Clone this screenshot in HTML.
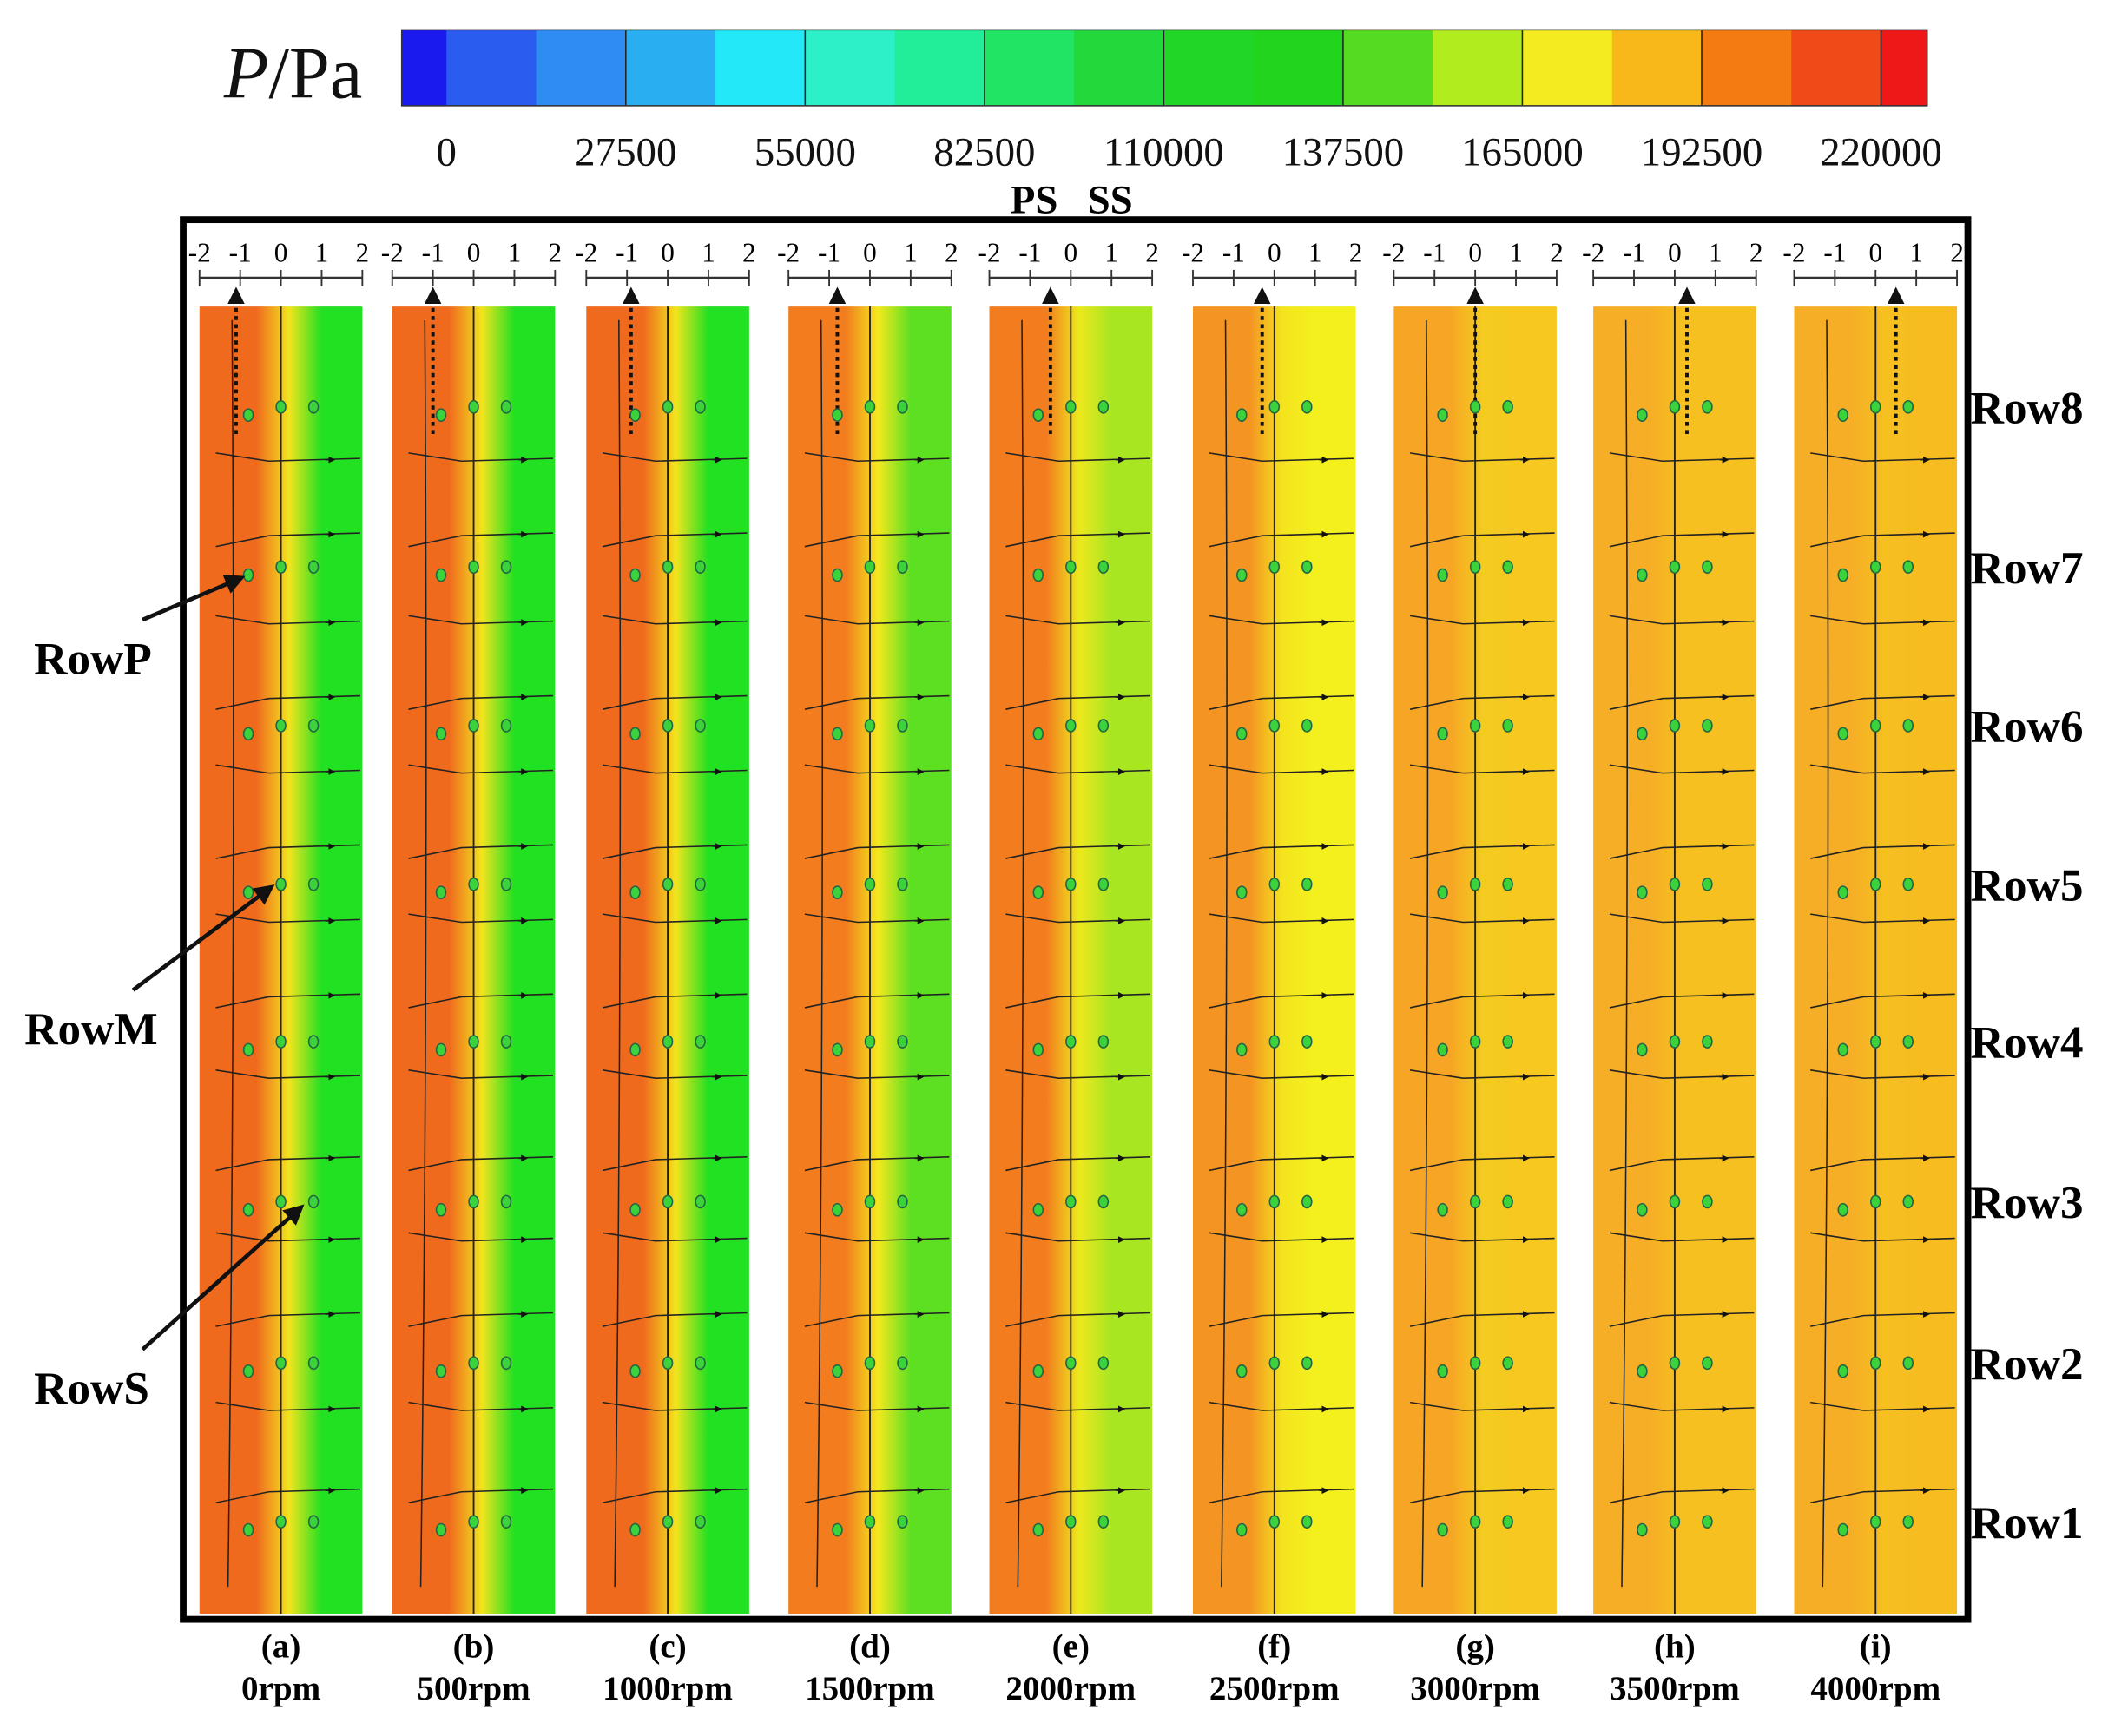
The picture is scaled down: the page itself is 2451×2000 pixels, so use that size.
<!DOCTYPE html>
<html><head><meta charset="utf-8">
<style>
html,body{margin:0;padding:0;background:#fff;}
svg{display:block;}
text{font-family:"Liberation Serif",serif;}
</style></head>
<body>
<svg id="fig" width="2451" height="2000" viewBox="0 0 1568 1280" preserveAspectRatio="none" xmlns="http://www.w3.org/2000/svg">
<defs>
<marker id="ah" viewBox="0 0 10 10" refX="8" refY="5" markerWidth="5" markerHeight="5" orient="auto"><path d="M0,0L10,5L0,10z" fill="#111"/></marker>
</defs>
<g id="colorbar"></g>
<g id="panels"></g>
<g id="labels"></g>
</svg>
<script>
const NS="http://www.w3.org/2000/svg";
// colorbar data
const cbColors=["#1a1aee","#2b5cf0","#2f8cf2","#2aaef2","#22e8f8","#2ef0c8","#22ee9a","#22e464","#22d83a","#22d628","#22d41e","#55dc22","#b0ec1e","#f4ec20","#f8b81a","#f47a12","#f04a18","#ee1818"];
const cbTicks=["0","27500","55000","82500","110000","137500","165000","192500","220000"];
const cbTickVals=[0,27500,55000,82500,110000,137500,165000,192500,220000];
// panel data
const panelLetters=["(a)","(b)","(c)","(d)","(e)","(f)","(g)","(h)","(i)"];
const panelRpm=["0rpm","500rpm","1000rpm","1500rpm","2000rpm","2500rpm","3000rpm","3500rpm","4000rpm"];
const panelLeft=["#f06a1e","#f06a1e","#f06a1e","#f27c1e","#f27c1e","#f49422","#f6a624","#f6ae26","#f6ae26"];
const panelMid=["#f2e41e","#f2e41e","#f2e41e","#f4e81e","#eee81e","#f4e41e","#f4cc20","#f6c020","#f6c020"];
const panelRight=["#22e022","#22e022","#22e022","#5ee022","#a8e622","#f4f01e","#f6c820","#f6c020","#f6bc20"];
const arrowPos=[-1.1,-1,-0.9,-0.8,-0.5,-0.3,0,0.3,0.5];
const rowNames=["Row8","Row7","Row6","Row5","Row4","Row3","Row2","Row1"];
const rowY=[300,418,535,652,768,886,1005,1122];
const dotOffsets=[-0.8,0,0.8];
const streamY=[340,395,460,515,570,625,680,735,795,855,915,970,1040,1100];
// layout (not data)
const panelX=[147,289,432,581,729,879,1027,1174,1322];

function el(tag,attrs,parent,text){const e=document.createElementNS(NS,tag);for(const k in attrs)e.setAttribute(k,attrs[k]);if(text!==undefined)e.textContent=text;parent.appendChild(e);return e;}

// colorbar
const cb=document.getElementById('colorbar');
const cbX0=296,cbX1=1420,cbY=22,cbH=56;
const cbScale=v=>329+(v/220000)*(1386-329);
const nb=cbColors.length;
const inner=(1386-329)/(nb-2);
cbColors.forEach((c,i)=>{
  const xa=i==0?cbX0:329+(i-1)*inner;
  const xb=i==nb-1?cbX1:329+i*inner;
  const r=el('rect',{x:xa,y:cbY,width:xb-xa+0.5,height:cbH,fill:c},cb);
  
  
});
cbTickVals.forEach((v,i)=>{
  if(i>0){const l=el('line',{x1:cbScale(v),x2:cbScale(v),y1:cbY,y2:cbY+cbH,stroke:'#222','stroke-width':1},cb);
  }
  const t=el('text',{x:cbScale(v),y:122,'font-size':30,'text-anchor':'middle',fill:'#111'},cb,cbTicks[i]);
  
  
});
el('rect',{x:cbX0,y:cbY,width:cbX1-cbX0,height:cbH,fill:'none',stroke:'#333','stroke-width':1},cb);
const ttl=el('text',{x:165,y:72,'font-size':54,fill:'#111'},cb);

el('tspan',{'font-style':'italic'},ttl,'P');el('tspan',{},ttl,'/Pa');

// labels
const lb=document.getElementById('labels');
const ps=el('text',{x:762,y:157,'font-size':30,'font-weight':'bold','text-anchor':'middle'},lb,'PS');

const ss=el('text',{x:818,y:157,'font-size':30,'font-weight':'bold','text-anchor':'middle'},lb,'SS');


// panels
const pg=document.getElementById('panels');
const frame=el('rect',{x:135,y:162,width:1315,height:1032,fill:'none',stroke:'#000','stroke-width':5},pg);

const pW=120,pTop=226,pBot=1190;
const defs=document.querySelector('defs');
panelLetters.forEach((L,i)=>{
  const x0=panelX[i], cx=x0+pW/2, unit=pW/4;
  const ax=v=>cx+v*unit;
  const g=el('linearGradient',{id:'g'+i,x1:0,x2:1,y1:0,y2:0},defs);
  el('stop',{offset:0,'stop-color':panelLeft[i]},g);
  el('stop',{offset:0.35,'stop-color':panelLeft[i]},g);
  el('stop',{offset:0.55,'stop-color':panelMid[i]},g);
  el('stop',{offset:0.75,'stop-color':panelRight[i]},g);
  el('stop',{offset:1,'stop-color':panelRight[i]},g);
  const grp=el('g',{},pg);
  
  
  const r=el('rect',{x:x0,y:pTop,width:pW,height:pBot-pTop,fill:'url(#g'+i+')'},grp);
  
  el('line',{x1:ax(-2),x2:ax(2),y1:205,y2:205,stroke:'#333','stroke-width':2},grp);
  [-2,-1,0,1,2].forEach(v=>{
    el('line',{x1:ax(v),x2:ax(v),y1:199,y2:211,stroke:'#333','stroke-width':1.2},grp);
    const t=el('text',{x:ax(v),y:193,'font-size':20,'text-anchor':'middle'},grp,String(v));
    
  });
  el('line',{x1:ax(0),x2:ax(0),y1:pTop,y2:pBot,stroke:'#222','stroke-width':1.2},grp);
  streamY.forEach((y,k)=>{
    const p=el('path',{d:`M${ax(-1.6)},${y+(k%2?8:-6)} L${ax(-0.3)},${y} L${ax(1.95)},${y-2}`,fill:'none',stroke:'#222','stroke-width':1},grp);
    
    el('line',{x1:ax(1.1),x2:ax(1.3),y1:y-1,y2:y-1,stroke:'#222','stroke-width':1,'marker-end':'url(#ah)'},grp);
  });
  el('path',{d:`M${ax(-1.2)},${pTop+10} Q${ax(-1.1)},700 ${ax(-1.3)},${pBot-20}`,fill:'none',stroke:'#222','stroke-width':1},grp);
  const da=el('line',{x1:ax(arrowPos[i]),x2:ax(arrowPos[i]),y1:320,y2:214,stroke:'#111','stroke-width':2.5,'stroke-dasharray':'3,3','marker-end':'url(#ah)'},grp);
  
  rowY.forEach((y,k)=>{
    dotOffsets.forEach((o,j)=>{
      const c=el('ellipse',{cx:ax(o),cy:y+(j==0?6:0),rx:3.5,ry:4.5,fill:'#3cd23c',stroke:'#264','stroke-width':1},grp);
      
    });
  });
  const t1=el('text',{x:cx,y:1222,'font-size':25,'font-weight':'bold','text-anchor':'middle'},grp,L);
  
  const t2=el('text',{x:cx,y:1253,'font-size':25,'font-weight':'bold','text-anchor':'middle'},grp,panelRpm[i]);
  
});
rowNames.forEach((n,k)=>{
  const t=el('text',{x:1452,y:rowY[k]+12,'font-size':34,'font-weight':'bold'},lb,n);
  
});
const side=[["RowP",25,497,178,422],["RowM",18,770,200,650],["RowS",25,1035,222,886]];
side.forEach(s=>{
  const t=el('text',{x:s[1],y:s[2],'font-size':34,'font-weight':'bold'},lb,s[0]);
  
  const l=el('line',{x1:s[1]+80,x2:s[3],y1:s[2]-40,y2:s[4]+4,stroke:'#111','stroke-width':3,'marker-end':'url(#ah)'},lb);
  
});
</script>
</body></html>
